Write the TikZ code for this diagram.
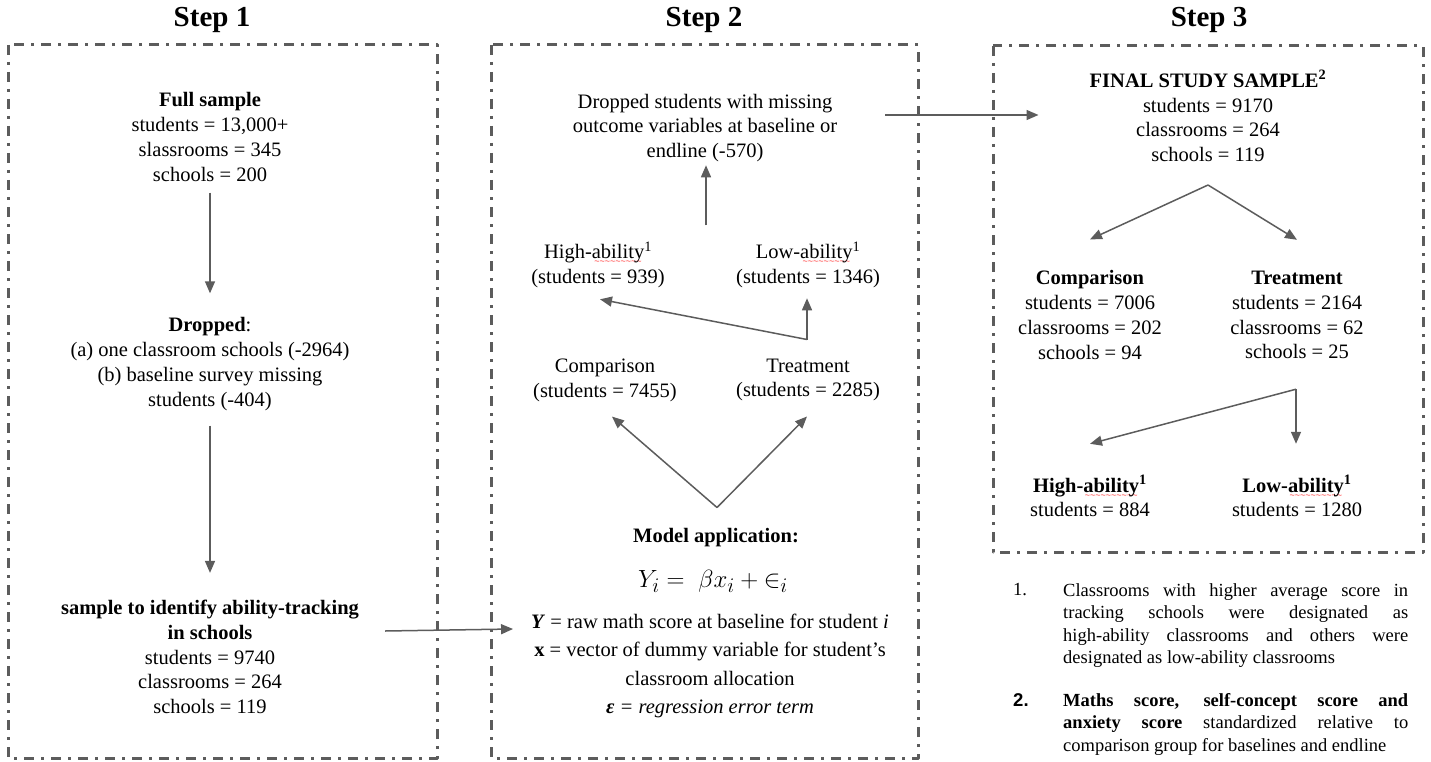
\documentclass[tikz,border=0pt]{standalone}
\usepackage{fontspec}
\setmainfont{Liberation Serif}
\newfontfamily\notesans{Liberation Sans}
\usetikzlibrary{arrows.meta,positioning}
\definecolor{linegray}{RGB}{92,92,92}
\newcommand\spellmark[1]{\setbox0\hbox{#1}\rlap{\lower6pt\hbox to \wd0{\cleaders\hbox{\notesans\fontsize{9}{9}\selectfont\mdseries\textcolor{red!80}{\char`\~}}\hfill}}#1}
\tikzset{
	stagebox/.style={draw=linegray, line width=3pt, dash pattern=on 10pt off 7pt on 3pt off 7pt},
	flow/.style={draw=linegray, line width=1.5pt, -{Triangle[length=12pt,width=10pt]}},
	txt/.style={align=center, inner sep=0pt, font=\fontsize{20.5}{24.8}\selectfont},
	steptitle/.style={anchor=base, inner sep=0pt, font=\fontsize{29}{34}\selectfont\bfseries},
	note/.style={anchor=north west, inner sep=0pt, font=\fontsize{18.5}{22.5}\selectfont}
}
\begin{document}
\begin{tikzpicture}[x=1pt, y=-1pt, line join=round]
	\useasboundingbox (0,0) rectangle (1431,762);
	\draw[stagebox] (8,45) rectangle (437,758);
	\draw[stagebox] (491,45) rectangle (918,758);
	\draw[stagebox] (993,46) rectangle (1423,552);
	\node[steptitle] (title1) at (212,27) {Step 1};
	\node[steptitle] (title2) at (704,27) {Step 2};
	\node[steptitle] (title3) at (1209,27) {Step 3};
	
	\node[txt] (full) at (210,137) {\textbf{Full sample}\\students = 13,000+\\slassrooms = 345\\schools = 200};
	\node[txt] (drop1) at (210,364) {\textbf{Dropped}:\\(a) one classroom schools (-2964)\\(b) baseline survey missing\\students (-404)};
	\node[txt] (sample) at (210,657) {\textbf{sample to identify ability-tracking}\\\textbf{in schools}\\students = 9740\\classrooms = 264\\schools = 119};
	\draw[flow, shorten <=11pt, shorten >=24pt] (full) -- (drop1);
	\draw[flow, shorten <=15pt, shorten >=27pt] (drop1) -- (sample);
	
	\node[txt] (drop2) at (705,128) {Dropped students with missing\\outcome variables at baseline or\\endline (-570)};
	\node[txt] (high2) at (598,265) {High-\spellmark{ability}\textsuperscript{1}\\(students = 939)};
	\node[txt] (low2) at (808,265) {Low-\spellmark{ability}\textsuperscript{1}\\(students = 1346)};
	\node[txt] (comp2) at (605,380) {Comparison\\(students = 7455)};
	\node[txt] (treat2) at (808,380) {Treatment\\(students = 2285)};
	\node[txt, font=\fontsize{20.5}{24.8}\selectfont\bfseries] (model) at (716,538) {Model application:};
	\node[txt, font=\fontsize{30}{34}\selectfont] (eqn) at (713,581) {$Y_i = \;\beta x_i + {\in_i}$};
	\node[txt, font=\fontsize{20.5}{28.3}\selectfont] (modeldesc) at (710,666) {\textbf{\textit{Y}} = raw math score at baseline for student \textit{i}\\\textbf{x} = vector of dummy variable for student’s\\classroom allocation\\\textit{\textbf{ε} = regression error term}};
	\coordinate (merge2) at ([shift={(1,63)}]drop2.south);
	\coordinate (split2) at ([shift={(1,-21)}]model.north);
	\coordinate (fork2) at ([shift={(-1,-19)}]treat2.north);
	\draw[flow] (merge2) -- ([shift={(1,3)}]drop2.south);
	\draw[flow] (fork2) -- ([shift={(-1,10)}]low2.south);
	\draw[flow] (fork2) -- ([shift={(2,11)}]high2.south);
	\draw[flow] (split2) -- ([shift={(7,15)}]comp2.south);
	\draw[flow] (split2) -- ([shift={(-1,15)}]treat2.south);
	
	\node[txt] (final) at (1208,116) {\textbf{FINAL STUDY SAMPLE\textsuperscript{2}}\\students = 9170\\classrooms = 264\\schools = 119};
	\node[txt] (comp3) at (1090,315) {\textbf{Comparison}\\students = 7006\\classrooms = 202\\schools = 94};
	\node[txt] (treat3) at (1297,315) {\textbf{Treatment}\\students = 2164\\classrooms = 62\\schools = 25};
	\node[txt] (high3) at (1090,496) {\textbf{High-\spellmark{ability}\textsuperscript{1}}\\students = 884};
	\node[txt] (low3) at (1297,496) {\textbf{Low-\spellmark{ability}\textsuperscript{1}}\\students = 1280};
	\coordinate (split3) at ([shift={(0,23)}]final.south);
	\coordinate (fork3) at ([shift={(-1,30)}]treat3.south);
	\draw[flow] (split3) -- ([shift={(0,-31)}]comp3.north);
	\draw[flow] (split3) -- ([shift={(0,-31)}]treat3.north);
	\draw[flow] (fork3) -- ([shift={(0,-31)}]high3.north);
	\draw[flow] (fork3) -- ([shift={(-1,-31)}]low3.north);
	
	\draw[flow] ([shift={(26,-26)}]sample.east) -- ([shift={(-18,-37)}]modeldesc.west);
	\draw[flow] ([shift={(48,-13)}]drop2.east) -- ([shift={(-51,-1)}]final.west);
	
	\node[note] (mark1) at (1013,583) {1.};
	\node[note, text width=345pt, align=justify] (note1) at (1063,583) {Classrooms with higher average score in\linebreak tracking schools were designated as\linebreak high-ability classrooms and others were\linebreak designated as low-ability classrooms};
	\node[note, font=\fontsize{18.5}{22.5}\notesans\bfseries] (mark2) at (1013,693) {2.};
	\node[note, text width=345pt, align=justify] (note2) at (1063,693) {\parfillskip=0pt\textbf{Maths score, self-concept score and}\linebreak\textbf{anxiety score} standardized relative to\linebreak comparison group for baselines and endline};
\end{tikzpicture}
\end{document}
